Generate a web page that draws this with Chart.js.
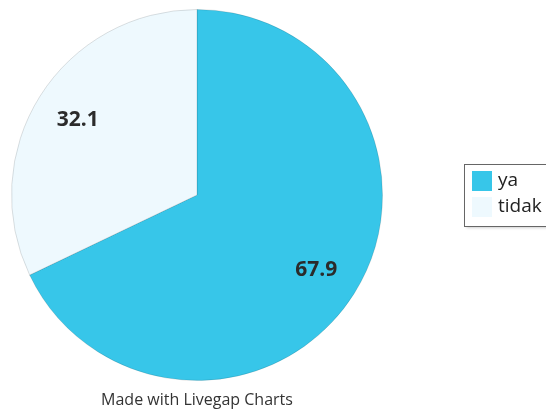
<!DOCTYPE html>
<html>
<head>
<meta charset="utf-8">
<script src="https://cdn.jsdelivr.net/npm/chart.js@4"></script>
<style>
  html, body { margin: 0; padding: 0; background: #fff; }
  #wrap { position: relative; width: 546px; height: 410px; }
</style>
</head>
<body>
<div id="wrap"><canvas id="pie" width="546" height="410"></canvas></div>
<script>
// data
const labels = ['ya', 'tidak'];
const values = [67.9, 32.1];
const colors = ['#37C6E9', '#EEF9FE'];

// value text inside each slice
const sliceLabels = {
    id: 'sliceLabels',
    afterDatasetsDraw(chart) {
        const ctx = chart.ctx;
        const meta = chart.getDatasetMeta(0);
        ctx.save();
        ctx.font = 'bold 21px "Open Sans"';
        ctx.fillStyle = '#2b2b2b';
        ctx.textAlign = 'center';
        ctx.textBaseline = 'middle';
        meta.data.forEach((arc, i) => {
            const p = arc.getProps(['x', 'y', 'startAngle', 'endAngle', 'outerRadius']);
            const mid = (p.startAngle + p.endAngle) / 2;
            const r = p.outerRadius * 0.76;
            ctx.fillText(values[i].toFixed(1), p.x + Math.cos(mid) * r, p.y + Math.sin(mid) * r);
        });
        ctx.restore();
    }
};

// boxed legend on the right plus footer line
const sideLegend = {
    id: 'sideLegend',
    afterDraw(chart) {
        const ctx = chart.ctx;
        ctx.save();
        const bx = 464.5, by = 164.5, bw = 90, bh = 62;
        ctx.shadowColor = 'rgba(0,0,0,0.25)';
        ctx.shadowBlur = 3;
        ctx.shadowOffsetX = 1;
        ctx.shadowOffsetY = 1;
        ctx.fillStyle = '#fff';
        ctx.fillRect(bx, by, bw, bh);
        ctx.shadowColor = 'transparent';
        ctx.strokeStyle = '#666';
        ctx.lineWidth = 1;
        ctx.strokeRect(bx, by, bw, bh);

        ctx.font = '19px "Open Sans"';
        ctx.textBaseline = 'middle';
        labels.forEach((t, i) => {
            const y = 181 + i * 26;
            ctx.fillStyle = colors[i];
            ctx.fillRect(472, y - 10, 20, 20);
            ctx.fillStyle = '#222';
            ctx.fillText(t, 498, y);
        });

        ctx.font = '16px "Open Sans"';
        ctx.fillStyle = '#333';
        ctx.textAlign = 'center';
        ctx.textBaseline = 'middle';
        ctx.fillText('Made with Livegap Charts', 197, 400);
        ctx.restore();
    }
};

new Chart(document.getElementById('pie'), {
    type: 'pie',
    data: {
        labels: labels,
        datasets: [{
            data: values,
            backgroundColor: colors,
            borderColor: 'rgba(0,0,0,0.12)',
            borderWidth: 1
        }]
    },
    options: {
        responsive: false,
        animation: false,
        layout: { padding: { left: 11, right: 163, top: 9, bottom: 29 } },
        plugins: {
            legend: { display: false },
            tooltip: { enabled: false }
        }
    },
    plugins: [sliceLabels, sideLegend]
});
</script>
</body>
</html>
